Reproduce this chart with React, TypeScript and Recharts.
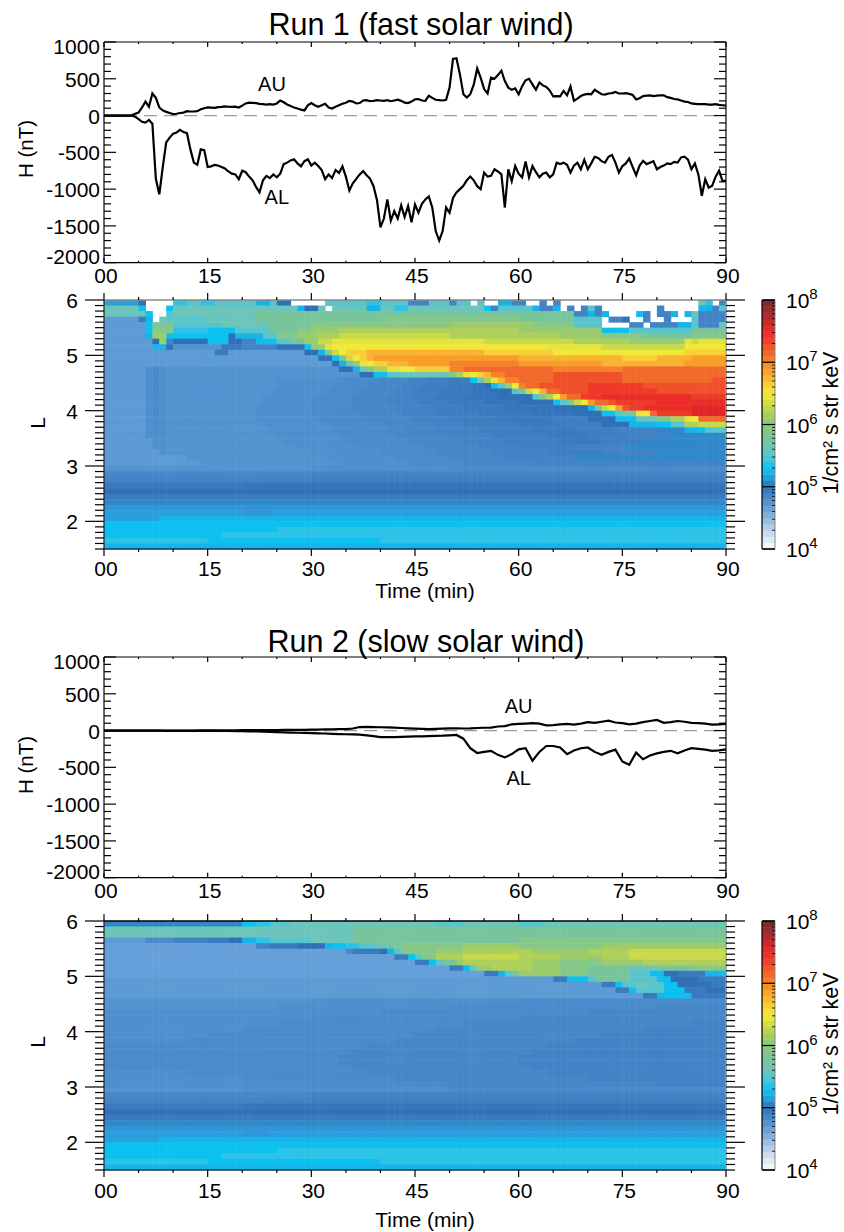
// Substorm AU/AL indices and L-shell flux maps for the fast and slow solar wind runs
import {
  ComposedChart,
  Line,
  Scatter,
  XAxis,
  YAxis,
  ReferenceLine,
  ReferenceDot,
} from 'recharts';

const FONT = '"Liberation Sans", Arial, sans-serif';
const WIDTH = 844;
const PLOT_LEFT = 104;
const PLOT_RIGHT = 726;
const PAD_TOP = 30;
const PAD_BOTTOM = 42;

const TIME_TICKS = [0, 5, 10, 15, 20, 25, 30, 35, 40, 45, 50, 55, 60, 65, 70, 75, 80, 85, 90];
const H_TICKS = [
  -2000, -1900, -1800, -1700, -1600, -1500, -1400, -1300, -1200, -1100, -1000, -900, -800, -700, -600, -500,
  -400, -300, -200, -100, 0, 100, 200, 300, 400, 500, 600, 700, 800, 900, 1000,
];
const L_TICKS = [
  1.5, 1.6, 1.7, 1.8, 1.9, 2, 2.1, 2.2, 2.3, 2.4, 2.5, 2.6, 2.7, 2.8, 2.9, 3, 3.1, 3.2, 3.3, 3.4, 3.5, 3.6, 3.7,
  3.8, 3.9, 4, 4.1, 4.2, 4.3, 4.4, 4.5, 4.6, 4.7, 4.8, 4.9, 5, 5.1, 5.2, 5.3, 5.4, 5.5, 5.6, 5.7, 5.8, 5.9, 6,
];
const BAR_TICKS = [
  4, 4.301, 4.477, 4.602, 4.699, 4.778, 4.845, 4.903, 4.954, 5, 5.301, 5.477, 5.602, 5.699, 5.778, 5.845, 5.903,
  5.954, 6, 6.301, 6.477, 6.602, 6.699, 6.778, 6.845, 6.903, 6.954, 7, 7.301, 7.477, 7.602, 7.699, 7.778, 7.845,
  7.903, 7.954, 8,
];

// Run 1 indices, one value every half minute
const AU_FAST = [
  0, 0, 0, 0, 0, 0, 0, 0, 3, 25, 40, 110, 190, 120, 300, 240, 110, 70, 50, 35,
  20, 25, 35, 40, 60, 55, 55, 60, 85, 100, 110, 108, 105, 115, 118, 125, 120, 118, 122, 110,
  135, 165, 175, 172, 170, 160, 155, 150, 155, 150, 165, 205, 180, 150, 130, 110, 95, 80, 70, 140,
  170, 140, 120, 140, 160, 110, 95, 120, 140, 160, 175, 200, 190, 165, 170, 205, 210, 195, 200, 210,
  205, 200, 210, 195, 205, 215, 200, 175, 170, 190, 220, 225, 205, 200, 270, 240, 215, 210, 205, 215,
  380, 770, 780, 560, 290, 245, 290, 420, 640, 515, 360, 300, 515, 500, 550, 610, 470, 380, 350, 370,
  290, 400, 480, 500, 425, 350, 450, 410, 390, 340, 260, 265, 260, 335, 275, 395, 200, 230, 265, 285,
  295, 290, 350, 320, 290, 285, 300, 305, 320, 300, 300, 305, 295, 280, 220, 235, 265, 270, 275, 265,
  270, 275, 275, 250, 240, 225, 220, 205, 190, 185, 165, 160, 155, 155, 155, 150, 150, 155, 145, 140,
  135,
];
const AL_FAST = [
  0, 0, 0, 0, 0, 0, 0, 0, 0, -15, -50, -85, -95, -60, -110, -860, -1070, -700, -365, -300,
  -245, -230, -195, -225, -240, -460, -640, -670, -460, -470, -700, -690, -670, -680, -700, -720, -760, -790, -800, -865,
  -750, -770, -830, -880, -970, -1045, -880, -820, -850, -800, -840, -790, -660, -640, -610, -595, -650, -690, -620, -595,
  -680, -640, -685, -740, -865, -800, -850, -740, -780, -690, -830, -1020, -920, -860, -800, -755, -810, -860, -960, -1150,
  -1520, -1400, -1140, -1430, -1300, -1400, -1220, -1380, -1230, -1450, -1210, -1320, -1200, -1140, -1100, -1250, -1570, -1700, -1570, -1250,
  -1320, -1120, -1045, -1000, -955, -880, -830, -880, -960, -1000, -775, -830, -820, -730, -760, -800, -1250, -730, -890, -685,
  -790, -840, -625, -840, -685, -770, -840, -790, -775, -840, -800, -640, -660, -640, -670, -775, -680, -640, -730, -600,
  -730, -650, -560, -575, -620, -640, -560, -535, -640, -775, -690, -650, -585, -700, -810, -680, -615, -660, -640, -620,
  -730, -700, -680, -650, -660, -630, -640, -570, -560, -600, -730, -650, -800, -1090, -865, -980, -955, -830, -750, -890,
  -885,
];

// Run 2 indices, one value every minute
const AU_SLOW = [
  0, 0, 0, 0, 0, 0, 0, 0, 0, 0,
  0, 0, 0, 0, 2, 2, 3, 3, 3, 4,
  5, 5, 5, 6, 6, 7, 8, 8, 10, 10,
  12, 14, 15, 18, 20, 20, 28, 48, 50, 48,
  45, 42, 40, 35, 30, 25, 22, 20, 22, 25,
  30, 30, 28, 30, 35, 38, 40, 55, 60, 85,
  90, 95, 100, 95, 70, 75, 85, 90, 80, 95,
  115, 105, 120, 135, 110, 100, 85, 95, 115, 130,
  145, 105, 115, 130, 120, 105, 100, 95, 80, 85,
  90,
];
const AL_SLOW = [
  0, 0, 0, 0, 0, -2, -2, -2, -2, -3,
  -3, -3, -4, -4, -4, -5, -5, -6, -6, -7,
  -8, -10, -12, -15, -18, -22, -25, -28, -30, -32,
  -35, -38, -40, -45, -48, -50, -52, -55, -65, -75,
  -90, -90, -88, -85, -82, -80, -78, -75, -72, -70,
  -65, -60, -110, -240, -305, -290, -275, -330, -365, -320,
  -255, -240, -410, -290, -210, -210, -230, -320, -270, -240,
  -230, -290, -330, -290, -260, -420, -465, -300, -390, -340,
  -310, -290, -275, -310, -270, -240, -250, -260, -275, -270,
  -255,
];

// Flux levels: each row runs from the top of the map (L 5.95) to the bottom (L 1.55),
// written as level letter + the minute where that level stops. A dot means no data.
const L_ROWS = [
  5.95, 5.85, 5.75, 5.65, 5.55, 5.45, 5.35, 5.25, 5.15, 5.05, 4.95, 4.85, 4.75, 4.65, 4.55, 4.45, 4.35, 4.25, 4.15,
  4.05, 3.95, 3.85, 3.75, 3.65, 3.55, 3.45, 3.35, 3.25, 3.15, 3.05, 2.95, 2.85, 2.75, 2.65, 2.55, 2.45, 2.35, 2.25,
  2.15, 2.05, 1.95, 1.85, 1.75, 1.65, 1.55,
];
const FLUX_FAST = [
  'h5 f6 .10 k12 l14 k16 l22 i24 l25 f27 .32 l38 k40 l44 d47 l50 d51 l53 .54 l55 .57 i59 d61 .63 d64 .65 d66 .86 m87 k88 .89 d90',
  'm5 j6 .9 j10 m28 i29 f31 m32 .33 m38 i40 m42 k44 m55 j56 d57 l62 i63 d65 i66 .67 d68 .69 d70 l71 d72 .80 d81 .86 i88 d89 l90',
  'm6 j7 .9 l10 m22 n68 d70 i71 d72 i73 .77 j78 d79 .80 d82 i83 .84 i85 m86 d90',
  'a5 e6 i7 .8 m9 l15 m22 n40 o60 n68 l72 .73 d75 f76 .78 d79 .81 d82 .85 l86 d90',
  'a6 j7 n10 l17 m24 n30 o50 p62 o68 l72 .76 d78 .79 d83 i85 l86 d89 m90',
  'a6 j7 o10 k15 j19 l24 n28 o30 p34 q60 p72 j76 l85 n90',
  'a6 i7 p9 j18 f19 i23 l25 o28 p31 q34 r50 q66 p72 o78 n85 o90',
  'a7 f8 p9 d10 f15 j18 f20 d22 j25 l27 n29 p31 r33 s55 r68 q76 p84 s85 r86 s90',
  'a7 i9 f10 b17 e20 d25 f29 j30 p32 s33 t64 s72 r84 t90',
  'a16 e18 a29 f31 i32 o33 r34 t35 u38 v55 u65 t84 u90',
  'a31 f33 j34 n35 r36 t37 u38 v39 w60 v75 u80 v85 w90',
  'a33 f34 i35 m36 p37 s38 t39 u41 v44 w50 x60 w72 v84 w90',
  'a6 H7 c8 H9 b34 f36 i37 m38 o39 q41 s43 t45 u50 x52 y65 x75 y90',
  'a6 H7 c8 H9 b37 f39 j41 l43 m50 o51 q52 s53 t54 u55 v56 x58 y65 z75 y90',
  'a6 H7 c8 H9 b25 H35 c40 E44 d47 F50 e53 j54 m55 q56 s57 v58 x60 y65 z75 y88 z90',
  'a6 H7 c8 H9 b25 H33 c38 E43 d46 F50 e53 G55 f56 j57 l58 p59 t60 x61 y63 z70 A78 z90',
  'a6 H7 c8 H9 b24 H32 c37 E42 d45 F49 e53 G56 f59 l60 n61 r62 t63 v64 y66 z70 A80 z90',
  'a6 H7 c8 H9 b23 H31 c36 E41 d45 F48 e52 G57 f62 l63 o64 q65 t66 w67 y69 A72 B85 A90',
  'a6 H7 c8 H9 b23 H30 c36 E41 d46 F50 e55 G60 f65 j66 l67 o68 r69 t70 w71 y73 z74 A80 B90',
  'a6 H7 c8 H9 b22 H30 c36 E42 d47 F52 e58 G65 f70 i71 n72 r73 t74 w75 z76 A78 B85 C90',
  'a6 H7 c8 H9 b22 H30 c37 E43 d48 F54 e62 G68 f72 j74 l75 n77 s78 t79 y80 A85 C90',
  'a6 H7 c8 H9 b22 H31 c38 E45 d50 F57 e65 F70 f74 j77 m80 o82 q84 s85 t86 y90',
  'a6 H7 c8 H9 b23 H32 c40 E47 d52 F60 e66 F72 f76 i80 j82 l84 q86 r90',
  'a6 H7 c8 H9 b24 H33 c41 E48 d54 F62 e68 F74 d80 g84 i86 j87 l90',
  'a6 H9 b25 H34 c42 E50 d56 F64 e70 F76 d82 g90',
  'a7 H9 b26 H35 c44 E52 d58 F66 e72 F78 g90',
  'a7 H9 b28 H37 c46 E54 d60 F68 d76 g90',
  'a8 H9 b30 H40 c48 E56 d64 F72 d80 g90',
  'a12 b32 H42 c50 E58 d68 g90',
  'a14 b34 H44 c52 E62 d90',
  'b30 H50 c90',
  'E30 d90',
  'd30 F90',
  'e20 G90',
  'f90',
  'e90',
  'g90',
  'P90',
  'h20 P24 h90',
  'h8 i90',
  'j90',
  'j25 k90',
  'j17 k90',
  'k15 j40 k90',
  'i90',
];
const FLUX_SLOW = [
  'g20 j22 k24 l27 m48 l52 m60 l64 m90',
  'm36 n90',
  'm36 n90',
  'a6 c10 d15 e18 f20 i22 k24 l30 m36 n60 o90',
  'Z22 d24 e28 f32 i33 j35 k37 l39 m41 n43 o52 p60 o72 p90',
  'Z35 c36 e40 f41 i42 l43 o48 p52 q62 p70 q76 r90',
  'Z42 e44 j45 l46 o48 q52 r60 q66 p72 q76 r90',
  'Z45 e47 j48 l49 n51 p52 q62 p66 o72 p78 q90',
  'Z50 e52 j53 m54 p56 q62 p66 o70 n76 m80 n85 o90',
  'Z55 e57 i58 l59 n60 p66 o70 n76 l79 j81 f83 e87 i89 j90',
  'a65 e67 j70 l71 n76 l80 j82 f86 e90',
  'a72 e74 j75 l77 m79 l81 j83 f88 e90',
  'a74 e76 j77 l81 j84 e87 f90',
  'a78 e80 i81 j85 e90',
  'b30 H60 c90',
  'b25 H50 c80 E90',
  'H40 c70 E90',
  'H30 c60 E90',
  'H25 c52 E85 d90',
  'H20 c48 E78 d90',
  'H15 c45 E72 d90',
  'H12 c42 E68 d90',
  'c38 E64 d90',
  'c36 E62 d90',
  'c34 E60 d90',
  'c34 E60 d90',
  'c36 E62 d90',
  'H12 c38 E64 d90',
  'H20 c42 E70 d90',
  'H30 c50 E80 d90',
  'b20 H50 c90',
  'E30 d90',
  'd30 F90',
  'e20 G90',
  'f90',
  'e90',
  'g90',
  'P90',
  'h20 P24 h90',
  'h8 i90',
  'j90',
  'j25 k90',
  'j17 k90',
  'k15 j40 k90',
  'i90',
];

const LEVEL_COLORS: Record<string, string> = {
  Z: '#65a0da', a: '#5c9bd4', b: '#5393d0', H: '#4e8fcd', c: '#4a8bcb', E: '#4687c8', d: '#4283c6', F: '#3e7fc2',
  e: '#3a7abf', G: '#3575bb', f: '#3070b7', g: '#3088ca', P: '#2f95d6',
  h: '#27a0dc', i: '#16b4ea', j: '#0cc0f0', k: '#2cc3e8', l: '#58c5cc', m: '#6cc5ba', n: '#78c59c', o: '#86c888',
  p: '#9acb6c', q: '#aed05a', r: '#c8d94a', s: '#e4e43c', t: '#f2e838', u: '#f8cf38', v: '#fab232', w: '#f99c28',
  x: '#f5822a', y: '#f26a2b', z: '#f0502a', A: '#ee3a28', B: '#ea2e27', C: '#e1262a',
};

// Colour bar, bottom (10^4) to top (10^8), one colour per tenth of a decade
const BAR_COLORS = [
  '#f4f8fc', '#e0ebf6', '#cbdcf0', '#b4cde8', '#9cbee1', '#84aeda', '#6ea0d4', '#5892ce', '#4686c8', '#377ac0',
  '#2c80c4', '#229fdc', '#14b8ec', '#20c2e8', '#45c5d6', '#5fc5c4', '#6cc5b2', '#78c59e', '#7fc590', '#86c784',
  '#92ca74', '#a3cd62', '#bbd452', '#d4dd44', '#ebe63a', '#f5e036', '#f9cc34', '#fab832', '#f9a42a', '#f79124',
  '#f57c28', '#f3682a', '#f1562a', '#ef4229', '#ec3327', '#df2c28', '#c82a2b', '#b02b2d', '#962c2f', '#7f2c30',
];
const BAR_LEVELS = [
  4.05, 4.15, 4.25, 4.35, 4.45, 4.55, 4.65, 4.75, 4.85, 4.95, 5.05, 5.15, 5.25, 5.35, 5.45, 5.55, 5.65, 5.75, 5.85,
  5.95, 6.05, 6.15, 6.25, 6.35, 6.45, 6.55, 6.65, 6.75, 6.85, 6.95, 7.05, 7.15, 7.25, 7.35, 7.45, 7.55, 7.65, 7.75,
  7.85, 7.95,
];

const series = (au: number[], al: number[], step: number) =>
  au.map((v, i) => ({ t: i * step, au: v, al: al[i] }));

// Expand the run-length rows into one cell per minute
function toCells(rows: string[]) {
  const cells: { t: number; L: number; color: string }[] = [];
  rows.forEach((row, r) => {
    let start = 0;
    row.split(' ').forEach((run) => {
      const level = run[0];
      const end = Number(run.slice(1));
      if (level !== '.') {
        for (let m = start; m < end; m += 1) {
          cells.push({ t: m + 0.5, L: L_ROWS[r], color: LEVEL_COLORS[level] });
        }
      }
      start = end;
    });
  });
  return cells;
}

const twoDigits = (v: number) => (v < 10 ? `0${v}` : `${v}`);

function timeTick(dir: number, major: number, minor: number, labelDy?: number) {
  return ({ x, y, payload }: any) => {
    const isMajor = payload.value % 15 === 0;
    return (
      <g>
        <line x1={x} x2={x} y1={y} y2={y + dir * (isMajor ? major : minor)} stroke="#000" strokeWidth={1.2} />
        {labelDy !== undefined && isMajor && (
          <text x={x + 2} y={y + labelDy} textAnchor="middle" fontSize={21} fill="#000">
            {twoDigits(payload.value)}
          </text>
        )}
      </g>
    );
  };
}

function hTick(dir: number, withLabel: boolean) {
  return ({ x, y, payload }: any) => {
    const v = payload.value;
    const isMajor = v % 500 === 0;
    let shift = 8;
    if (v === 1000) shift = 12;
    if (v === -2000) shift = 1;
    return (
      <g>
        <line x1={x} x2={x + dir * (isMajor ? 12 : 7)} y1={y} y2={y} stroke="#000" strokeWidth={1.2} />
        {withLabel && isMajor && (
          <text x={x - 4} y={y + shift} textAnchor="end" fontSize={21} fill="#000">
            {v}
          </text>
        )}
      </g>
    );
  };
}

function lTick(dir: number, withLabel: boolean) {
  return ({ x, y, payload }: any) => {
    const v = payload.value;
    const isMajor = Number.isInteger(v);
    return (
      <g>
        <line x1={x} x2={x + dir * (isMajor ? 19 : 9)} y1={y} y2={y} stroke="#000" strokeWidth={1.2} />
        {withLabel && isMajor && (
          <text x={x - 26} y={y + 8} textAnchor="end" fontSize={21} fill="#000">
            {v}
          </text>
        )}
      </g>
    );
  };
}

function barTick({ x, y, payload }: any) {
  const v = payload.value;
  const isMajor = Number.isInteger(v);
  return (
    <g>
      <line x1={x} x2={x - (isMajor ? 13 : 3)} y1={y} y2={y} stroke="#000" strokeWidth={isMajor ? 1.2 : 0.8} />
      {isMajor && (
        <text x={x + 11} y={y + 8} fontSize={21} fill="#000">
          10
          <tspan fontSize={15} dy={-9}>
            {v}
          </tspan>
        </text>
      )}
    </g>
  );
}

function Caption({ x, y, size, rotate = 0, children }: any) {
  return (
    <div
      style={{
        position: 'absolute',
        left: x,
        top: y,
        fontSize: size,
        lineHeight: 1,
        whiteSpace: 'nowrap',
        color: '#000',
        transform: `translate(-50%, -50%) rotate(${rotate}deg)`,
      }}
    >
      {children}
    </div>
  );
}

// Axes have a 1px box so that they render; the margins make up for it
const axisMargin = (left: number, right: number) => ({
  left: left - 1,
  right: WIDTH - right - 1,
  top: PAD_TOP - 1,
  bottom: PAD_BOTTOM - 1,
});
const cellMargin = (left: number, right: number) => ({
  left,
  right: WIDTH - right,
  top: PAD_TOP,
  bottom: PAD_BOTTOM,
});
const layer: any = { position: 'absolute', left: 0, top: 0 };

function IndexPanel({ top, data, auLabel, alLabel }: any) {
  const height = 220.7 + PAD_TOP + PAD_BOTTOM;
  return (
    <div style={{ position: 'absolute', left: 0, top: top - PAD_TOP }}>
      <ComposedChart width={WIDTH} height={height} data={data} margin={axisMargin(PLOT_LEFT, PLOT_RIGHT)}>
        <XAxis dataKey="t" type="number" domain={[0, 90]} ticks={TIME_TICKS} interval={0} height={1} tickSize={0} tickMargin={0} tick={timeTick(-1, 5, 2, 20)} axisLine={{ stroke: '#000', strokeWidth: 1.2 }} />
        <XAxis xAxisId="top" orientation="top" dataKey="t" type="number" domain={[0, 90]} ticks={TIME_TICKS} interval={0} height={1} tickSize={0} tickMargin={0} tick={timeTick(1, 5, 2)} axisLine={{ stroke: '#000', strokeWidth: 1.2 }} />
        <YAxis type="number" domain={[-2000, 1000]} ticks={H_TICKS} interval={0} width={1} tickSize={0} tickMargin={0} tick={hTick(1, true)} axisLine={{ stroke: '#000', strokeWidth: 1.2 }} />
        <YAxis yAxisId="right" orientation="right" dataKey="au" type="number" domain={[-2000, 1000]} ticks={H_TICKS} interval={0} width={1} tickSize={0} tickMargin={0} tick={hTick(-1, false)} axisLine={{ stroke: '#000', strokeWidth: 1.2 }} />
        <ReferenceLine y={0} stroke="#9a9a9a" strokeWidth={1.2} strokeDasharray="13 7" />
        <Line dataKey="au" stroke="#000" strokeWidth={2.2} dot={false} isAnimationActive={false} />
        <Line dataKey="al" stroke="#000" strokeWidth={2.2} dot={false} isAnimationActive={false} />
        <ReferenceDot x={auLabel[0]} y={auLabel[1]} r={0} stroke="none" fill="none" label={{ value: 'AU', position: 'center', fontSize: 20, fill: '#000' }} />
        <ReferenceDot x={alLabel[0]} y={alLabel[1]} r={0} stroke="none" fill="none" label={{ value: 'AL', position: 'center', fontSize: 20, fill: '#000' }} />
      </ComposedChart>
    </div>
  );
}

const CELL_W = (PLOT_RIGHT - PLOT_LEFT) / 90;
const CELL_H = 249 / 45;

function fluxCell(props: any) {
  return (
    <rect
      x={props.cx - CELL_W / 2}
      y={props.cy - CELL_H / 2}
      width={CELL_W + 0.5}
      height={CELL_H + 0.5}
      fill={props.payload.color}
    />
  );
}

function FluxPanel({ top, cells, edge, labelDy }: any) {
  const height = 249 + PAD_TOP + PAD_BOTTOM;
  return (
    <div style={{ position: 'absolute', left: 0, top: top - PAD_TOP, width: WIDTH, height }}>
      <div style={layer}>
        <ComposedChart width={WIDTH} height={height} data={cells} margin={cellMargin(PLOT_LEFT, PLOT_RIGHT)}>
          <XAxis hide dataKey="t" type="number" domain={[0, 90]} />
          <YAxis hide dataKey="L" type="number" domain={[1.5, 6]} />
          <Scatter data={cells} dataKey="L" shape={fluxCell} isAnimationActive={false} />
        </ComposedChart>
      </div>
      <div style={layer}>
        <ComposedChart width={WIDTH} height={height} data={L_ROWS.map((L) => ({ t: 0, L }))} margin={axisMargin(PLOT_LEFT, PLOT_RIGHT)}>
          <XAxis dataKey="t" type="number" domain={[0, 90]} ticks={TIME_TICKS} interval={0} height={1} tickSize={0} tickMargin={0} tick={timeTick(1, 7, 3, labelDy)} axisLine={{ stroke: '#000', strokeWidth: 1.2 }} />
          <XAxis xAxisId="top" orientation="top" dataKey="t" type="number" domain={[0, 90]} ticks={TIME_TICKS} interval={0} height={1} tickSize={0} tickMargin={0} tick={timeTick(-1, 7, 3)} axisLine={{ stroke: edge, strokeWidth: 1.5 }} />
          <YAxis dataKey="L" type="number" domain={[1.5, 6]} ticks={L_TICKS} interval={0} width={1} tickSize={0} tickMargin={0} tick={lTick(-1, true)} axisLine={{ stroke: '#222', strokeWidth: 1.2 }} />
          <YAxis yAxisId="right" orientation="right" dataKey="L" type="number" domain={[1.5, 6]} ticks={L_TICKS} interval={0} width={1} tickSize={0} tickMargin={0} tick={lTick(1, false)} axisLine={{ stroke: '#999', strokeWidth: 1.2 }} />
        </ComposedChart>
      </div>
    </div>
  );
}

const BAR_CELLS = BAR_LEVELS.map((e, i) => ({ x: 0.5, e, color: BAR_COLORS[i] }));

function barCell(props: any) {
  return (
    <rect x={props.cx - 6.5} y={props.cy - 3.11} width={13} height={6.7} fill={props.payload.color} />
  );
}

function ColorBar({ top }: any) {
  const height = 249 + PAD_TOP + PAD_BOTTOM;
  return (
    <div style={{ position: 'absolute', left: 0, top: top - PAD_TOP, width: WIDTH, height }}>
      <div style={layer}>
        <ComposedChart width={WIDTH} height={height} data={BAR_CELLS} margin={cellMargin(762, 775)}>
          <XAxis hide dataKey="x" type="number" domain={[0, 1]} />
          <YAxis hide dataKey="e" type="number" domain={[4, 8]} />
          <Scatter data={BAR_CELLS} dataKey="e" shape={barCell} isAnimationActive={false} />
        </ComposedChart>
      </div>
      <div style={layer}>
        <ComposedChart width={WIDTH} height={height} data={BAR_CELLS} margin={axisMargin(762, 775)}>
          <XAxis dataKey="x" type="number" domain={[0, 1]} ticks={[0, 1]} height={1} tickSize={0} tick={false} axisLine={{ stroke: '#000', strokeWidth: 1.2 }} />
          <XAxis xAxisId="top" orientation="top" dataKey="x" type="number" domain={[0, 1]} ticks={[0, 1]} height={1} tickSize={0} tick={false} axisLine={{ stroke: '#000', strokeWidth: 1.2 }} />
          <YAxis dataKey="e" type="number" domain={[4, 8]} ticks={[4, 8]} width={1} tickSize={0} tick={false} axisLine={{ stroke: '#000', strokeWidth: 1.2 }} />
          <YAxis yAxisId="right" orientation="right" dataKey="e" type="number" domain={[4, 8]} ticks={BAR_TICKS} interval={0} width={1} tickSize={0} tickMargin={0} tick={barTick} axisLine={{ stroke: '#888', strokeWidth: 1 }} />
        </ComposedChart>
      </div>
    </div>
  );
}

const FAST_DATA = series(AU_FAST, AL_FAST, 0.5);
const SLOW_DATA = series(AU_SLOW, AL_SLOW, 1);
const FAST_CELLS = toCells(FLUX_FAST);
const SLOW_CELLS = toCells(FLUX_SLOW);

export default function App() {
  return (
    <div
      style={{
        position: 'absolute',
        left: 0,
        top: 0,
        width: WIDTH,
        height: 1232,
        overflow: 'hidden',
        background: '#fff',
        fontFamily: FONT,
      }}
    >
      <Caption x={421} y={24} size={30.5}>Run 1 (fast solar wind)</Caption>
      <IndexPanel top={42.3} data={FAST_DATA} auLabel={[24.3, 425]} alLabel={[25, -1110]} />
      <Caption x={26} y={149} size={20.5} rotate={-90}>H (nT)</Caption>
      <FluxPanel top={300} cells={FAST_CELLS} edge="#888" labelDy={27} />
      <Caption x={37} y={423} size={21} rotate={-90}>L</Caption>
      <ColorBar top={300} />
      <Caption x={832} y={423} size={21.4} rotate={-90}>1/cm² s str keV</Caption>
      <Caption x={425} y={590} size={21}>Time (min)</Caption>

      <Caption x={426} y={641} size={30.5}>Run 2 (slow solar wind)</Caption>
      <IndexPanel top={657.3} data={SLOW_DATA} auLabel={[60, 335]} alLabel={[60, -640]} />
      <Caption x={26} y={765} size={20.5} rotate={-90}>H (nT)</Caption>
      <FluxPanel top={921} cells={SLOW_CELLS} edge="#000" labelDy={28} />
      <Caption x={37} y={1042} size={21} rotate={-90}>L</Caption>
      <ColorBar top={921} />
      <Caption x={832} y={1044} size={21.4} rotate={-90}>1/cm² s str keV</Caption>
      <Caption x={425} y={1219} size={21}>Time (min)</Caption>
    </div>
  );
}
